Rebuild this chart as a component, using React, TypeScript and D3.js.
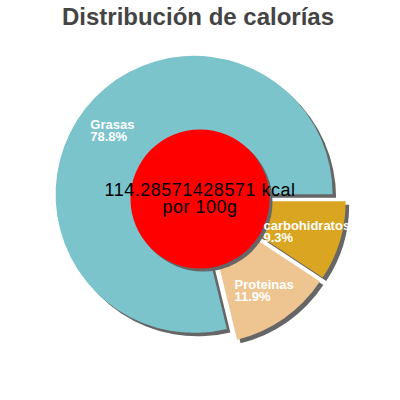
import React, { useEffect, useRef } from 'react';
import * as d3 from 'd3';

// slices, going counterclockwise from 3 o'clock
const categories = ['Grasas', 'Proteinas', 'carbohidratos'];
const percents = [78.8, 11.9, 9.3];
const sliceColors = ['#7bc4cc', '#eec591', '#daa520'];
const chartTitle = 'Distribución de calorías';
const centerLines = ['114.28571428571 kcal', 'por 100g'];

const FONT = "'Liberation Sans', Arial, sans-serif";

const App: React.FC = () => {
  const svgRef = useRef<SVGSVGElement>(null);

  useEffect(() => {
    if (!svgRef.current) return;
    const svg = d3.select(svgRef.current);
    svg.selectAll('*').remove();

    const cx = 200;
    const cy = 199;
    const radius = 138.5;
    const hole = 69.5;
    const gap = 7.5; // explode distance
    const shadow = 3.5;

    svg.append('text')
      .attr('x', 198)
      .attr('y', 25)
      .attr('text-anchor', 'middle')
      .attr('font-family', FONT)
      .attr('font-weight', 'bold')
      .attr('font-size', 24)
      .attr('fill', '#444444')
      .text(chartTitle);

    const pie = d3.pie<number>()
      .sort(null)
      .value(d => d)
      .startAngle(Math.PI / 2 + 2 * Math.PI)
      .endAngle(Math.PI / 2);
    const arcs = pie(percents);

    const arc = d3.arc<d3.PieArcDatum<number>>().innerRadius(0).outerRadius(radius);
    const labelArc = d3.arc<d3.PieArcDatum<number>>().innerRadius(hole).outerRadius(radius);
    const offset = (d: d3.PieArcDatum<number>) => {
      const a = (d.startAngle + d.endAngle) / 2;
      return [Math.sin(a) * gap, -Math.cos(a) * gap];
    };

    const g = svg.append('g').attr('transform', `translate(${cx},${cy})`);

    // shadows first
    g.selectAll('path.shadow')
      .data(arcs)
      .join('path')
      .attr('class', 'shadow')
      .attr('d', arc)
      .attr('fill', '#666666')
      .attr('transform', d => {
        const [dx, dy] = offset(d);
        return `translate(${dx + shadow},${dy + shadow})`;
      });

    g.selectAll('path.slice')
      .data(arcs)
      .join('path')
      .attr('class', 'slice')
      .attr('d', arc)
      .attr('fill', (_, i) => sliceColors[i])
      .attr('transform', d => {
        const [dx, dy] = offset(d);
        return `translate(${dx},${dy})`;
      });

    // center disc
    g.append('circle').attr('cx', 3).attr('cy', 3).attr('r', hole).attr('fill', '#666666');
    g.append('circle').attr('r', hole).attr('fill', '#ff0000');

    // slice labels, left aligned block centred on the ring centroid
    arcs.forEach((d, i) => {
      const [dx, dy] = offset(d);
      const [lx, ly] = labelArc.centroid(d);
      const t = g.append('text')
        .attr('font-family', FONT)
        .attr('font-weight', 'bold')
        .attr('font-size', 13)
        .attr('fill', '#ffffff');
      const lines = [categories[i], `${percents[i]}%`];
      const spans = lines.map((s, k) =>
        t.append('tspan').attr('x', 0).attr('y', ly + dy - 1.5 + k * 12).text(s)
      );
      const w = Math.max(...spans.map(s => (s.node() as SVGTSpanElement).getComputedTextLength()));
      spans.forEach(s => s.attr('x', lx + dx - w / 2));
    });

    centerLines.forEach((s, k) => {
      g.append('text')
        .attr('x', 0)
        .attr('y', -3 + k * 17)
        .attr('text-anchor', 'middle')
        .attr('font-family', FONT)
        .attr('font-size', 18)
        .attr('letter-spacing', 0.5)
        .attr('fill', '#000000')
        .text(s);
    });
  }, []);

  return (
    <svg
      ref={svgRef}
      width={400}
      height={400}
      viewBox="0 0 400 400"
      style={{ position: 'absolute', left: 0, top: 0, background: '#ffffff' }}
    />
  );
};

export default App;
